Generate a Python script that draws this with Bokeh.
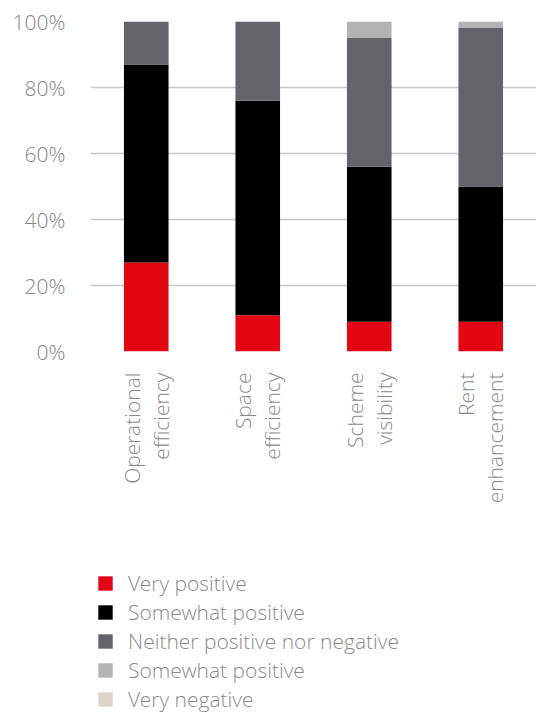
import math
from bokeh.plotting import figure
from bokeh.layouts import column
from bokeh.models import FactorRange, Range1d, Legend, LegendItem, CustomJSTickFormatter
from bokeh.embed import file_html
from bokeh.resources import INLINE

categories = ["Operational\nefficiency", "Space\nefficiency", "Scheme\nvisibility", "Rent\nenhancement"]
series_names = ["Very positive", "Somewhat positive", "Neither positive nor negative",
                "Somewhat positive ", "Very negative"]
very_positive = [27, 11, 9, 9]
somewhat_positive = [60, 65, 47, 41]
neither = [13, 24, 39, 48]
somewhat_negative = [0, 0, 5, 2]
very_negative = [0, 0, 0, 0]
y_ticks = [0, 20, 40, 60, 80, 100]

colors = ["#e30613", "#000000", "#636469", "#b2b3b5", "#dcd6ca"]
keys = ["vp", "sp", "ne", "sn", "vn"]
data = dict(cat=categories, vp=very_positive, sp=somewhat_positive, ne=neither,
            sn=somewhat_negative, vn=very_negative)

FONT = "Open Sans Light, Open Sans"
TXT = "#8a8a8a"
FS = "21px"

x_range = FactorRange(*categories)
y_range = Range1d(0, 100)

# ---- main chart ----
p = figure(x_range=x_range, y_range=y_range,
           width=536, height=560, output_backend="svg", toolbar_location=None,
           min_border_left=90, min_border_right=0, min_border_top=21, min_border_bottom=209)

p.vbar_stack(keys, x="cat", width=0.4, color=colors, line_color=None, source=data)

p.outline_line_color = None
p.xgrid.grid_line_color = None
p.ygrid.grid_line_color = "#c8c8c8"
p.ygrid.grid_line_width = 1.5
p.yaxis.ticker = y_ticks
p.yaxis.formatter = CustomJSTickFormatter(code="return tick + '%'")
for ax in (p.xaxis, p.yaxis):
    ax.axis_line_color = None
    ax.major_tick_line_color = None
    ax.minor_tick_line_color = None
    ax.major_tick_out = 0
    ax.major_tick_in = 0
    ax.major_label_text_font = FONT
    ax.major_label_text_font_size = FS
    ax.major_label_text_color = TXT
p.yaxis.major_label_standoff = 25
p.xaxis.major_label_standoff = 21
p.xaxis.major_label_orientation = math.pi / 2
p.xaxis.major_label_text_line_height = 1.05

# ---- legend panel (separate figure, renderers hidden) ----
lg = figure(x_range=x_range, y_range=y_range, width=536, height=159,
            output_backend="svg", toolbar_location=None,
            x_axis_location=None, y_axis_location=None, min_border=0)
lg.outline_line_color = None
lg.grid.grid_line_color = None
lrends = lg.vbar_stack(keys, x="cat", width=0.4, color=colors, line_color=None, source=data)
for r in lrends:
    r.visible = False

items = [LegendItem(label=n, renderers=[r]) for n, r in zip(series_names, lrends)]
legend = Legend(items=items, location=(6, 6), orientation="vertical",
                glyph_width=18, glyph_height=18, label_height=18, spacing=1,
                label_standoff=14, padding=0, margin=0,
                border_line_color=None, background_fill_alpha=0,
                inactive_fill_alpha=0,
                label_text_font=FONT, label_text_font_size=FS, label_text_color=TXT)
lg.add_layout(legend, "center")

layout = column(p, lg, spacing=0)
open("out.html", "w").write(file_html(layout, INLINE))
